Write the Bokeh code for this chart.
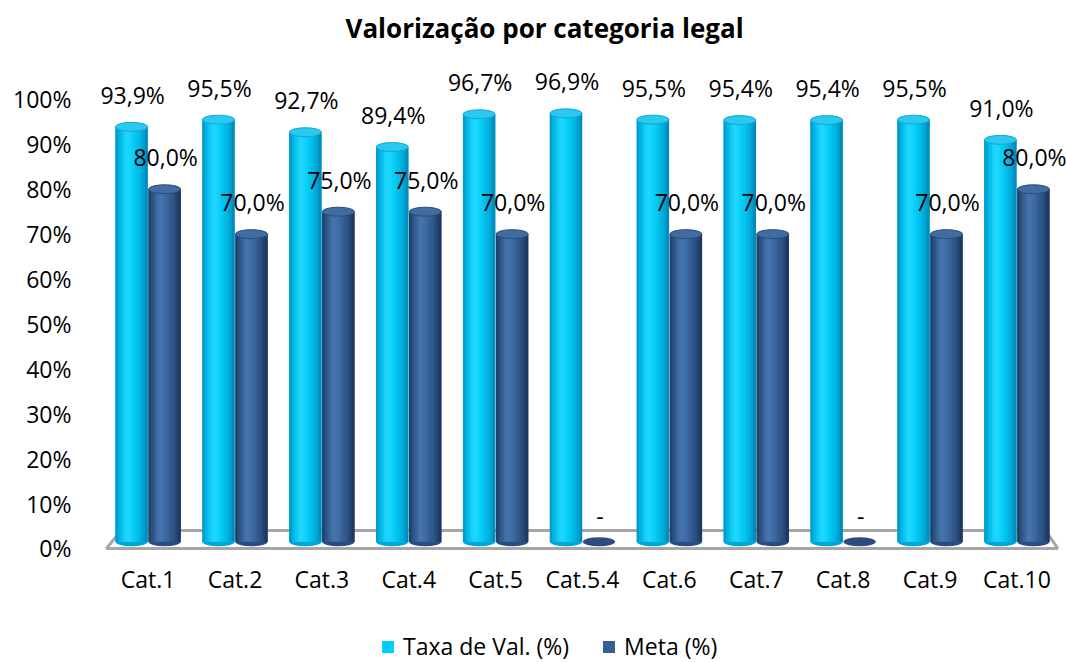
import numpy as np
from bokeh.plotting import figure
from bokeh.models import (ColumnDataSource, FactorRange, Range1d, FixedTicker,
                          PrintfTickFormatter, Legend, LegendItem)
from bokeh.transform import dodge
from bokeh.core.properties import value
from bokeh.embed import file_html
from bokeh.resources import INLINE

# ---------------- data ----------------
categories = ["Cat.1", "Cat.2", "Cat.3", "Cat.4", "Cat.5", "Cat.5.4",
              "Cat.6", "Cat.7", "Cat.8", "Cat.9", "Cat.10"]
taxa = [93.9, 95.5, 92.7, 89.4, 96.7, 96.9, 95.5, 95.4, 95.4, 95.5, 91.0]
meta = [80.0, 70.0, 75.0, 75.0, 70.0, None, 70.0, 70.0, None, 70.0, 80.0]
series_names = ["Taxa de Val. (%)", "Meta (%)"]
y_ticks = [0, 10, 20, 30, 40, 50, 60, 70, 80, 90, 100]
title_text = "Valorização por categoria legal"

# ---------------- style ----------------
FONT = "Open Sans"
FS = "23px"
BASE = 1.5          # cylinder base (3D floor)
BAR_W = 0.37
ELL_H = 2.0
N_STRIPS = 12
styles = [
    dict(offset=-0.19, legend="#00CCFF",
         stops=[(0.0, "#0092C4"), (0.15, "#00BBE8"), (0.35, "#26D8FF"),
                (0.55, "#08D0FA"), (0.8, "#00B0DF"), (1.0, "#0084B4")],
         top_fill="#2CC8EF", top_line="#0BA8D4", bottom="#00A6D6"),
    dict(offset=0.19, legend="#365F95",
         stops=[(0.0, "#1D3860"), (0.15, "#2F578A"), (0.35, "#4877B0"),
                (0.55, "#3C69A0"), (0.8, "#2C5083"), (1.0, "#1A3256")],
         top_fill="#406C9F", top_line="#2A4C7A", bottom="#2A4C7E"),
]


def hex2rgb(h):
    h = h.lstrip("#")
    return [int(h[i:i + 2], 16) for i in (0, 2, 4)]


def lerp_color(stops, t):
    for (t0, c0), (t1, c1) in zip(stops[:-1], stops[1:]):
        if t0 <= t <= t1:
            a = (t - t0) / (t1 - t0) if t1 > t0 else 0
            r0, r1 = hex2rgb(c0), hex2rgb(c1)
            r = [round(x0 + (x1 - x0) * a) for x0, x1 in zip(r0, r1)]
            return "#%02x%02x%02x" % tuple(r)
    return stops[-1][1]


def fmt(v):
    return "-" if v is None else f"{v:.1f}".replace(".", ",") + "%"


n = len(categories)
p = figure(x_range=FactorRange(factors=categories, range_padding=0.0129),
           y_range=Range1d(-25.4, 110.9),
           width=1066, height=662, output_backend="svg", toolbar_location=None,
           min_border_left=98, min_border_right=0, min_border_top=50,
           min_border_bottom=0)
p.background_fill_color = "white"
p.border_fill_color = "white"
p.outline_line_color = None
p.xgrid.grid_line_color = None
p.ygrid.grid_line_color = None

# title
p.title.text = title_text
p.title.text_font = FONT
p.title.text_font_style = "bold"
p.title.text_font_size = "26px"
p.title.align = "left"
p.title.offset = 247
p.title.text_color = "black"

# 3D floor outline
p.patch(x=[0.02, 0.19, n - 0.17, n - 0.03], y=[0, 4, 4, 0],
        fill_color="white", line_color="#A6A6A6", line_width=3)

legend_items = []
for name, vals, st in zip(series_names, [taxa, meta], styles):
    off = st["offset"]
    all_src = ColumnDataSource(dict(
        cat=categories,
        ly=[v if v is not None else 0 for v in vals],
        label=[fmt(v) for v in vals]))
    valid = [(c, v) for c, v in zip(categories, vals) if v is not None]
    bar_src = ColumnDataSource(dict(cat=[c for c, _ in valid],
                                    top=[v for _, v in valid]))
    # bottom ellipse (for all categories, flat disc when no value)
    p.ellipse(x=dodge("cat", off, range=p.x_range), y=BASE, width=BAR_W,
              height=ELL_H, fill_color=st["bottom"], line_color=None,
              source=all_src)
    # base body (series colour; also used for the legend)
    body = p.vbar(x=dodge("cat", off, range=p.x_range), top="top", bottom=BASE,
                  width=BAR_W, fill_color=st["legend"], line_color=None,
                  source=bar_src)
    # shading strips of the cylinder
    sw = BAR_W / N_STRIPS
    for k in range(N_STRIPS):
        t = (k + 0.5) / N_STRIPS
        p.vbar(x=dodge("cat", off + (t - 0.5) * BAR_W, range=p.x_range),
               top="top", bottom=BASE, width=sw + 0.004,
               fill_color=lerp_color(st["stops"], t), line_color=None,
               source=bar_src)
    # top ellipse
    p.ellipse(x=dodge("cat", off, range=p.x_range), y="top", width=BAR_W,
              height=ELL_H, fill_color=st["top_fill"], line_color=st["top_line"],
              line_width=1, source=bar_src)
    # labels
    p.text(x=dodge("cat", off, range=p.x_range), y="ly", text="label",
           source=all_src, text_font=value(FONT), text_font_size=FS,
           text_color="black", text_align="center", text_baseline="alphabetic",
           x_offset=1, y_offset=-32)
    legend_items.append(LegendItem(label=name, renderers=[body]))

legend = Legend(items=legend_items, orientation="horizontal",
                location=(282, 0), glyph_width=15, glyph_height=15,
                label_text_font=FONT, label_text_font_size=FS,
                label_text_color="black",
                label_standoff=8, spacing=32, padding=0, margin=0,
                border_line_alpha=0, background_fill_alpha=0)
p.add_layout(legend)

# axes
for ax in (p.xaxis[0], p.yaxis[0]):
    ax.axis_line_color = None
    ax.major_tick_line_color = None
    ax.minor_tick_line_color = None
    ax.major_tick_out = 0
    ax.major_tick_in = 0
    ax.major_label_text_font = FONT
    ax.major_label_text_font_size = FS
    ax.major_label_text_color = "black"
p.yaxis.ticker = FixedTicker(ticks=y_ticks)
p.yaxis.formatter = PrintfTickFormatter(format="%d%%")
p.yaxis.major_label_standoff = 27
p.xaxis.fixed_location = 0
p.xaxis.major_label_standoff = 15

open("out.html", "w").write(file_html(p, INLINE))
